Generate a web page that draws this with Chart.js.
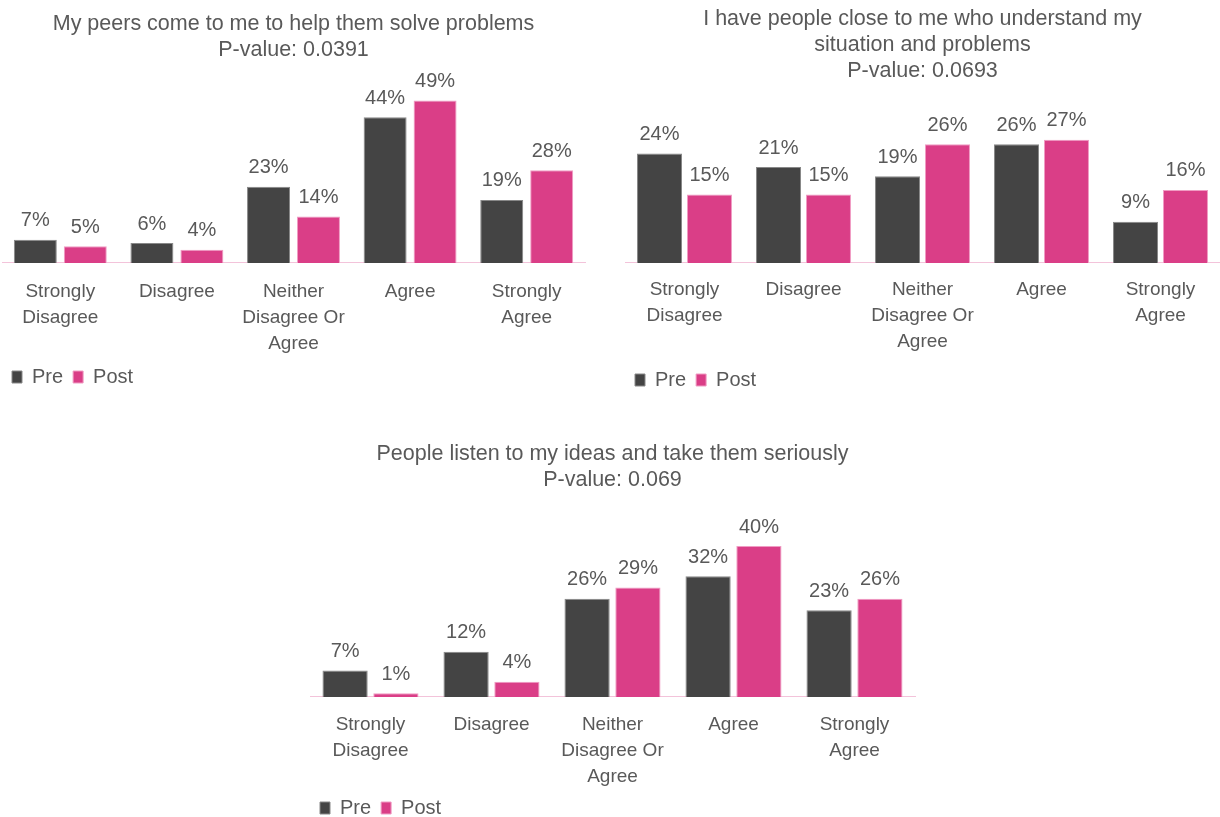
<!DOCTYPE html>
<html>
<head>
<meta charset="utf-8">
<script src="https://cdn.jsdelivr.net/npm/chart.js@4.4.1/dist/chart.umd.min.js"></script>
<style>
  body { margin: 0; background: #fff; width: 1220px; height: 817px; overflow: hidden; position: relative; }
  canvas { position: absolute; }
</style>
</head>
<body>
<canvas id="peersChart" width="590" height="397" style="left:0px;top:0px"></canvas>
<canvas id="closeChart" width="600" height="400" style="left:620px;top:0px"></canvas>
<canvas id="ideasChart" width="612" height="398" style="left:305px;top:430px"></canvas>
<script>
// Survey answers, percent of respondents
const categories = [
  ['Strongly', 'Disagree'],
  'Disagree',
  ['Neither', 'Disagree Or', 'Agree'],
  'Agree',
  ['Strongly', 'Agree']
];
const seriesNames = ['Pre', 'Post'];

const peersTitle = ['My peers come to me to help them solve problems', 'P-value: 0.0391'];
const peersPre = [7, 6, 23, 44, 19];
const peersPost = [5, 4, 14, 49, 28];

const closeTitle = ['I have people close to me who understand my', 'situation and problems', 'P-value: 0.0693'];
const closePre = [24, 21, 19, 26, 9];
const closePost = [15, 15, 26, 27, 16];

const ideasTitle = ['People listen to my ideas and take them seriously', 'P-value: 0.069'];
const ideasPre = [7, 12, 26, 32, 23];
const ideasPost = [1, 4, 29, 40, 26];

const textColor = '#595959';
const fontFamily = '"Liberation Sans", Arial, Helvetica, sans-serif';

// percent labels above each bar
const valueLabels = {
  id: 'valueLabels',
  afterDatasetsDraw(chart) {
    const ctx = chart.ctx;
    ctx.save();
    ctx.font = '20px ' + fontFamily;
    ctx.fillStyle = textColor;
    ctx.textAlign = 'center';
    ctx.textBaseline = 'middle';
    chart.data.datasets.forEach((ds, i) => {
      chart.getDatasetMeta(i).data.forEach((bar, j) => {
        ctx.fillText(ds.data[j] + '%', bar.x, bar.y - 19);
      });
    });
    ctx.restore();
  }
};

function makeChart(id, title, pre, post, yMax, o) {
  const barOpts = { borderWidth: 1, categoryPercentage: o.cat, barPercentage: o.bar };
  return new Chart(document.getElementById(id), {
    type: 'bar',
    data: {
      labels: categories,
      datasets: [
        Object.assign({ label: seriesNames[0], data: pre, backgroundColor: '#444444', borderColor: '#888888' }, barOpts),
        Object.assign({ label: seriesNames[1], data: post, backgroundColor: '#da3e87', borderColor: '#f09cc3' }, barOpts)
      ]
    },
    options: {
      responsive: false,
      animation: false,
      layout: { padding: { left: o.left, right: o.right, top: 0, bottom: 0 } },
      scales: {
        x: {
          grid: { display: false, drawTicks: false },
          border: { color: '#f3c3da', width: 1 },
          ticks: {
            color: textColor,
            font: { family: fontFamily, size: 19, lineHeight: 1.37 },
            padding: o.tickPad,
            maxRotation: 0,
            autoSkip: false
          },
          // tick padding is counted twice; drop part of the one under the labels
          afterFit: (scale) => { scale.height -= o.shrink; }
        },
        y: { display: false, min: 0, max: yMax }
      },
      plugins: {
        title: {
          display: true,
          text: title,
          color: textColor,
          font: { family: fontFamily, size: 21.5, weight: 'normal', lineHeight: 1.21 },
          padding: { top: o.titleTop, bottom: o.titleBottom }
        },
        legend: {
          position: 'bottom',
          align: 'start',
          labels: {
            color: textColor,
            font: { family: fontFamily, size: 20 },
            boxWidth: 10,
            boxHeight: 12,
            padding: 10
          }
        },
        tooltip: { enabled: false }
      }
    },
    plugins: [valueLabels]
  });
}

makeChart('peersChart', peersTitle, peersPre, peersPost, 54.9,
  { left: 2, right: 5, cat: 0.857, bar: 0.86, tickPad: 16, shrink: 16, titleTop: 11, titleBottom: 18 });
makeChart('closeChart', closeTitle, closePre, closePost, 35.7,
  { left: 5, right: 0, cat: 0.84, bar: 0.9, tickPad: 14, shrink: 9, titleTop: 6, titleBottom: 16 });
makeChart('ideasChart', ideasTitle, ideasPre, ideasPost, 46.9,
  { left: 5, right: 2, cat: 0.84, bar: 0.89, tickPad: 15, shrink: 17, titleTop: 11, titleBottom: 27 });
</script>
</body>
</html>
